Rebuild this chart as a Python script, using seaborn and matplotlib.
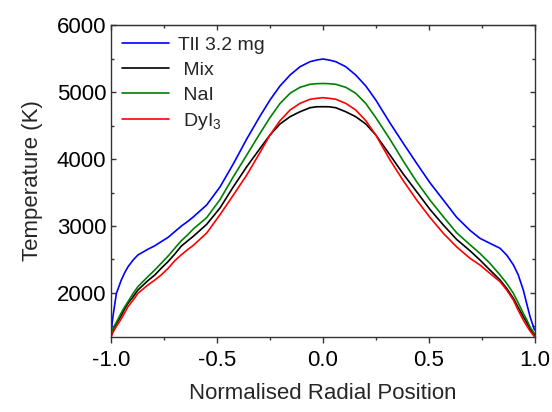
import matplotlib
matplotlib.use("Agg")
import matplotlib.pyplot as plt
import pandas as pd
import seaborn as sns
from matplotlib.ticker import MultipleLocator

# Normalised radial position
position = [-1.0, -0.992, -0.976, -0.953, -0.937, -0.921, -0.897, -0.874, -0.827,
            -0.795, -0.764, -0.732, -0.700, -0.669, -0.638, -0.6125, -0.549,
            -0.486, -0.423, -0.360, -0.297, -0.250, -0.203, -0.155, -0.108,
            -0.061, -0.029, 0.0,
            0.029, 0.061, 0.108, 0.155, 0.203, 0.250, 0.317, 0.380, 0.443,
            0.506, 0.569, 0.632, 0.695, 0.742, 0.790, 0.837, 0.869, 0.900,
            0.923, 0.947, 0.963, 0.979, 1.0]

# Temperatures (K)
tli = [1440, 1650, 1990, 2190, 2300, 2390, 2490, 2567, 2652, 2703, 2766, 2829,
       2915, 2998, 3070, 3135, 3315, 3585, 3930, 4300, 4643, 4883, 5092, 5257,
       5381, 5456, 5481, 5496,
       5481, 5456, 5381, 5257, 5092, 4883, 4540, 4235, 3937, 3646, 3389, 3130,
       2935, 2816, 2740, 2667, 2564, 2420, 2270, 2043, 1842, 1644, 1445]
mix = [1370, 1440, 1540, 1660, 1760, 1845, 1940, 2043, 2183, 2265, 2368, 2466,
       2580, 2700, 2780, 2845, 3025, 3270, 3587, 3885, 4160, 4360, 4524, 4634,
       4708, 4768, 4782, 4783,
       4782, 4768, 4708, 4634, 4524, 4360, 4061, 3776, 3513, 3248, 3015, 2799,
       2630, 2492, 2340, 2193, 2066, 1919, 1782, 1644, 1560, 1460, 1370]
nai = [1390, 1468, 1560, 1700, 1790, 1868, 1991, 2093, 2243, 2340, 2443, 2549,
       2667, 2780, 2870, 2955, 3125, 3395, 3737, 4060, 4386, 4620, 4830, 4984,
       5073, 5118, 5127, 5130,
       5127, 5118, 5073, 4984, 4830, 4620, 4296, 3970, 3662, 3387, 3139, 2898,
       2720, 2590, 2440, 2268, 2141, 1994, 1850, 1695, 1600, 1490, 1390]
dyi3 = [1345, 1410, 1500, 1610, 1700, 1794, 1891, 1994, 2118, 2190, 2268, 2365,
        2480, 2570, 2650, 2710, 2895, 3170, 3463, 3761, 4100, 4360, 4573, 4734,
        4833, 4894, 4908, 4918,
        4908, 4894, 4833, 4734, 4573, 4360, 3987, 3676, 3389, 3128, 2891, 2688,
        2517, 2417, 2290, 2168, 2041, 1894, 1741, 1595, 1510, 1430, 1345]

labels = ["TlI 3.2 mg", " Mix", " NaI", r" DyI$_3$"]
colors = ["#0000ff", "#000000", "#008000", "#ff0000"]
x_ticks = [-1.0, -0.5, 0.0, 0.5, 1.0]
y_ticks = [2000, 3000, 4000, 5000, 6000]

sns.set_style("ticks")
plt.rcParams['font.family'] = ['Liberation Sans', 'DejaVu Sans']
plt.rcParams['mathtext.fontset'] = 'custom'
plt.rcParams['mathtext.rm'] = 'Liberation Sans'
plt.rcParams['mathtext.it'] = 'Liberation Sans:italic'

frames = []
for lab, vals in zip(labels, [tli, mix, nai, dyi3]):
    frames.append(pd.DataFrame({"pos": position, "T": vals, "series": lab}))
df = pd.concat(frames, ignore_index=True)

fig = plt.figure(figsize=(5.52, 4.12), dpi=100)
ax = fig.add_axes([0.2016, 0.1828, 0.7667, 0.7558])
sns.lineplot(data=df, x="pos", y="T", hue="series", hue_order=labels,
             palette=colors, estimator=None, linewidth=1.2, ax=ax)

ax.set_xlim(-1.0, 1.0)
ax.set_ylim(1345, 6000)
ax.set_xticks(x_ticks)
ax.set_xticklabels([f"{v:.1f}" for v in x_ticks])
ax.set_yticks(y_ticks)
ax.xaxis.set_minor_locator(MultipleLocator(0.25))
ax.yaxis.set_minor_locator(MultipleLocator(500))
ax.tick_params(axis='x', which='both', direction='out', labelsize=16,
               colors='#333333', labelcolor='black', width=1.0, pad=5)
ax.tick_params(axis='x', which='major', length=4.5)
ax.tick_params(axis='x', which='minor', length=2.5)
ax.tick_params(axis='y', which='both', direction='in', right=True, labelsize=16,
               colors='#333333', labelcolor='black', width=1.0)
ax.tick_params(axis='y', which='major', length=3.8)
ax.tick_params(axis='y', which='minor', length=2.5)

top = ax.secondary_xaxis('top')
top.set_xticks(x_ticks)
top.xaxis.set_minor_locator(MultipleLocator(0.25))
top.tick_params(axis='x', which='both', direction='in', labeltop=False,
                colors='#333333', width=1.0)
top.tick_params(axis='x', which='major', length=3.8)
top.tick_params(axis='x', which='minor', length=2.5)
top.spines['top'].set_color('#333333')

for s in ax.spines.values():
    s.set_color('#333333')
    s.set_linewidth(1.0)

ax.set_xlabel("Normalised Radial Position", fontsize=16, labelpad=9)
ax.set_ylabel("Temperature (K)", fontsize=16, labelpad=10)

ax.legend(loc="upper left", bbox_to_anchor=(0.0, 1.0), frameon=False,
          fontsize=14, handlelength=2.4, labelspacing=0.38, handletextpad=0.5,
          borderaxespad=0.45, borderpad=0.1)

fig.savefig("out.png", dpi=100)
